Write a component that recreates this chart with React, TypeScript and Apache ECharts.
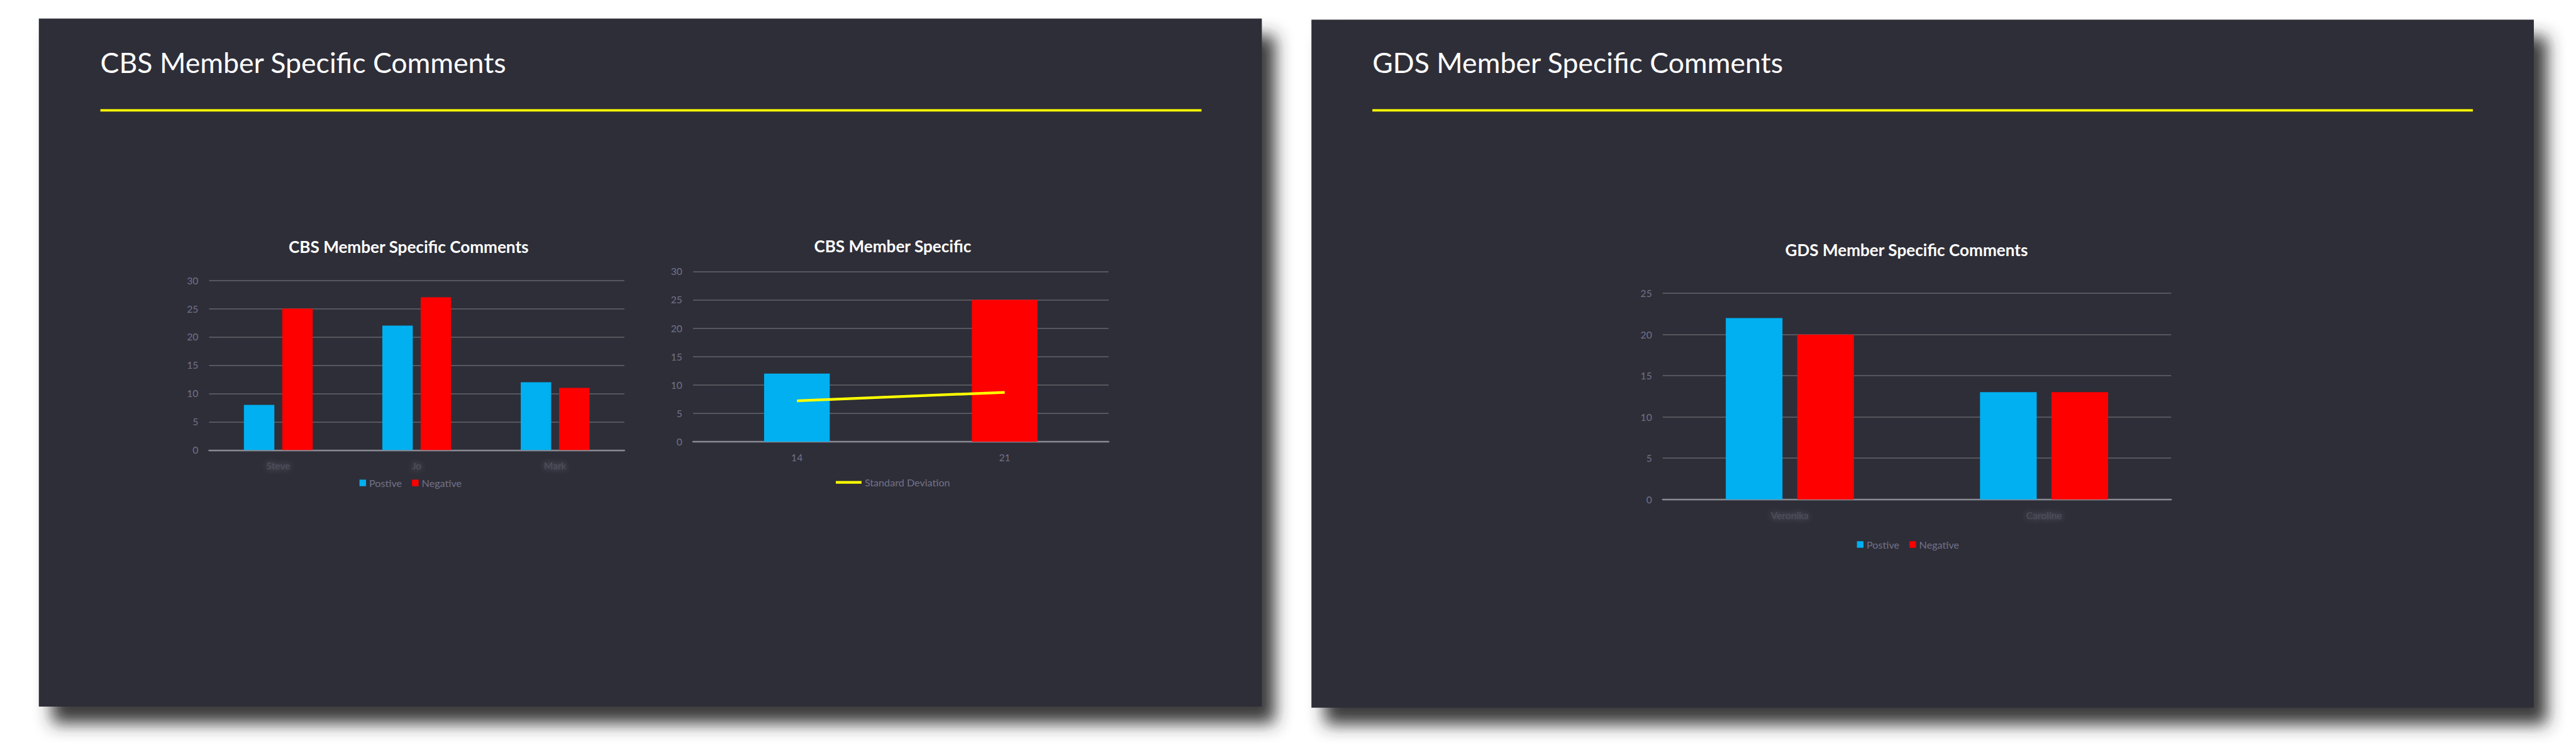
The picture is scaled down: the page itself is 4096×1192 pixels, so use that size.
import React, { useEffect, useRef } from "react";
import * as echarts from "echarts";

// ---------- data ----------
const slideTitles = ["CBS Member Specific Comments", "GDS Member Specific Comments"];

const chart1Title = "CBS Member Specific Comments";
const chart1Categories = ["Steve", "Jo", "Mark"];
const chart1Positive = [8, 22, 12];
const chart1Negative = [25, 27, 11];

const chart2Title = "CBS Member Specific";
const chart2Categories = ["14", "21"];
const chart2Bars = [12, 25];
const chart2StdDev = [7.2, 8.7];

const chart3Title = "GDS Member Specific Comments";
const chart3Categories = ["Veronika", "Caroline"];
const chart3Positive = [22, 13];
const chart3Negative = [20, 13];

const seriesNames = ["Postive", "Negative"];
const lineName = "Standard Deviation";
const yMax = [30, 30, 25];
const yInterval = 5;

// ---------- styles ----------
const W = 4096;
const H = 1192;
const S = 0.95;
const s = (v: number) => v * S;

const BLUE = "#00B0F0";
const RED = "#FF0000";
const YELLOW = "#FFFF00";
const SLIDE = "#2E2E38";
const GRID = "#56565E";
const AXIS = "#8A8A92";
const LABEL = "#72728A";
const FONT = 'Lato, "Open Sans", sans-serif';

const grids = [
  { l: 350, r: 1045, t: 469, b: 753 },
  { l: 1160, r: 1855.5, t: 454, b: 739 },
  { l: 2783, r: 3634, t: 490.7, b: 835.4 },
];

export default function App() {
  const ref = useRef<HTMLDivElement>(null);
  useEffect(() => {
    document.body.style.margin = "0";
    document.body.style.overflow = "hidden";
    if (!ref.current) return;
    const chart = echarts.init(ref.current, undefined, { renderer: "svg" });

    const blurLabel = {
      color: "#50505E",
      fontSize: s(16.5),
      fontFamily: FONT,
      margin: s(18),
      textShadowColor: "#70707E",
      textShadowBlur: s(10),
    };
    const clearLabel = {
      color: LABEL,
      fontSize: s(16.5),
      fontFamily: FONT,
      margin: s(18),
    };

    const xAxis = grids.map((g, i) => ({
      type: "category",
      gridIndex: i,
      data: [chart1Categories, chart2Categories, chart3Categories][i],
      axisLine: { show: true, lineStyle: { color: AXIS, width: s(2.5) } },
      axisTick: { show: false },
      axisLabel: i === 1 ? clearLabel : blurLabel,
      splitLine: { show: false },
    }));
    const yAxis = grids.map((g, i) => ({
      type: "value",
      gridIndex: i,
      min: 0,
      max: yMax[i],
      interval: yInterval,
      axisLine: { show: false },
      axisTick: { show: false },
      axisLabel: { color: LABEL, fontSize: s(16.5), fontFamily: FONT, margin: s(18) },
      splitLine: { show: true, lineStyle: { color: GRID, width: s(2) } },
    }));

    const legendText = { color: LABEL, fontSize: s(17), fontFamily: FONT };

    const slideRect = (x: number, y: number, w: number, h: number) => ({
      type: "rect",
      shape: { x: s(x), y: s(y), width: s(w), height: s(h) },
      style: {
        fill: SLIDE,
        shadowBlur: s(28),
        shadowColor: "rgba(45,45,45,0.95)",
        shadowOffsetX: s(22),
        shadowOffsetY: s(28),
      },
    });
    const slideTitle = (x: number, text: string) => ({
      type: "text",
      x: s(x),
      y: s(104),
      style: {
        text,
        fill: "#FFFFFF",
        fontSize: s(47),
        fontFamily: FONT,
        align: "left",
        verticalAlign: "middle",
        textAlign: "left",
        textVerticalAlign: "middle",
      },
    });
    const yellowLine = (x1: number, x2: number) => ({
      type: "rect",
      shape: { x: s(x1), y: s(182.5), width: s(x2 - x1), height: s(4) },
      style: { fill: YELLOW },
    });

    const chartTitle = (text: string, cx: number, cy: number) => ({
      text,
      left: s(cx),
      top: s(cy),
      textAlign: "center",
      textVerticalAlign: "middle",
      padding: 0,
      textStyle: { color: "#FFFFFF", fontWeight: "bold", fontSize: s(27.5), fontFamily: FONT },
    });

    const option: any = {
      animation: false,
      backgroundColor: "#FFFFFF",
      graphic: {
        elements: [
          slideRect(65, 31, 2047, 1151),
          slideRect(2195, 33, 2046, 1151),
          slideTitle(168, slideTitles[0]),
          slideTitle(2297, slideTitles[1]),
          yellowLine(168, 2011),
          yellowLine(2297, 4139),
        ],
      },
      title: [
        chartTitle(chart1Title, 684, 413),
        chartTitle(chart2Title, 1494, 412),
        chartTitle(chart3Title, 3191, 418),
      ],
      legend: [
        {
          data: seriesNames,
          left: s(601.7),
          top: s(799.5),
          itemWidth: s(11),
          itemHeight: s(11),
          itemGap: s(17),
          icon: "rect",
          padding: 0,
          textStyle: legendText,
          selectedMode: false,
        },
        {
          data: [lineName],
          left: s(1399),
          top: s(798.5),
          itemWidth: s(43),
          itemHeight: s(4.5),
          icon: "rect",
          padding: 0,
          textStyle: legendText,
          selectedMode: false,
        },
        {
          data: seriesNames,
          left: s(3108),
          top: s(902.5),
          itemWidth: s(11),
          itemHeight: s(11),
          itemGap: s(17),
          icon: "rect",
          padding: 0,
          textStyle: legendText,
          selectedMode: false,
        },
      ],
      grid: grids.map((g) => ({
        left: s(g.l),
        top: s(g.t),
        width: s(g.r - g.l),
        height: s(g.b - g.t),
        containLabel: false,
      })),
      xAxis,
      yAxis,
      series: [
        {
          name: seriesNames[0],
          type: "bar",
          xAxisIndex: 0,
          yAxisIndex: 0,
          data: chart1Positive,
          itemStyle: { color: BLUE },
          barWidth: "22%",
          barGap: "26%",
        },
        {
          name: seriesNames[1],
          type: "bar",
          xAxisIndex: 0,
          yAxisIndex: 0,
          data: chart1Negative,
          itemStyle: { color: RED },
          barWidth: "22%",
          barGap: "26%",
        },
        {
          name: chart2Title,
          type: "bar",
          xAxisIndex: 1,
          yAxisIndex: 1,
          data: chart2Bars.map((v, i) => ({ value: v, itemStyle: { color: i === 0 ? BLUE : RED } })),
          barWidth: "31.6%",
        },
        {
          name: lineName,
          type: "line",
          xAxisIndex: 1,
          yAxisIndex: 1,
          data: chart2StdDev,
          showSymbol: false,
          symbol: "none",
          itemStyle: { color: YELLOW },
          lineStyle: { color: YELLOW, width: s(4.5) },
          z: 5,
        },
        {
          name: seriesNames[0],
          type: "bar",
          xAxisIndex: 2,
          yAxisIndex: 2,
          data: chart3Positive,
          itemStyle: { color: BLUE },
          barWidth: "22.3%",
          barGap: "26%",
        },
        {
          name: seriesNames[1],
          type: "bar",
          xAxisIndex: 2,
          yAxisIndex: 2,
          data: chart3Negative,
          itemStyle: { color: RED },
          barWidth: "22.3%",
          barGap: "26%",
        },
      ],
    };
    chart.setOption(option);
    return () => chart.dispose();
  }, []);

  return <div ref={ref} style={{ width: W, height: H }} />;
}
